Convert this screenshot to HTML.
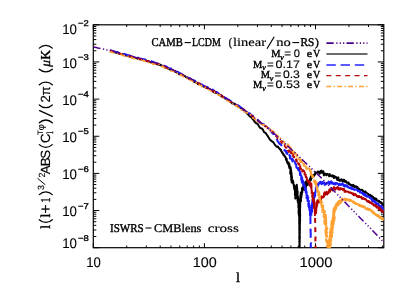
<!DOCTYPE html><html><head><meta charset="utf-8"><style>html,body{margin:0;padding:0;background:#fff}svg{display:block;will-change:transform;opacity:0.999}text{-webkit-font-smoothing:antialiased;text-rendering:geometricPrecision}</style></head><body><svg width="415" height="297" viewBox="0 0 415 297">
<rect width="415" height="297" fill="#fff"/>
<clipPath id="c"><rect x="93.3" y="24.8" width="290.5" height="223.5"/></clipPath>
<path d="M93.3,247.70 h6.0 M383.8,247.70 h-6.0 M93.3,236.52 h3.0 M383.8,236.52 h-3.0 M93.3,229.97 h3.0 M383.8,229.97 h-3.0 M93.3,225.33 h3.0 M383.8,225.33 h-3.0 M93.3,221.73 h3.0 M383.8,221.73 h-3.0 M93.3,218.79 h3.0 M383.8,218.79 h-3.0 M93.3,216.30 h3.0 M383.8,216.30 h-3.0 M93.3,214.15 h3.0 M383.8,214.15 h-3.0 M93.3,212.25 h3.0 M383.8,212.25 h-3.0 M93.3,210.55 h6.0 M383.8,210.55 h-6.0 M93.3,199.37 h3.0 M383.8,199.37 h-3.0 M93.3,192.82 h3.0 M383.8,192.82 h-3.0 M93.3,188.18 h3.0 M383.8,188.18 h-3.0 M93.3,184.58 h3.0 M383.8,184.58 h-3.0 M93.3,181.64 h3.0 M383.8,181.64 h-3.0 M93.3,179.15 h3.0 M383.8,179.15 h-3.0 M93.3,177.00 h3.0 M383.8,177.00 h-3.0 M93.3,175.10 h3.0 M383.8,175.10 h-3.0 M93.3,173.40 h6.0 M383.8,173.40 h-6.0 M93.3,162.22 h3.0 M383.8,162.22 h-3.0 M93.3,155.67 h3.0 M383.8,155.67 h-3.0 M93.3,151.03 h3.0 M383.8,151.03 h-3.0 M93.3,147.43 h3.0 M383.8,147.43 h-3.0 M93.3,144.49 h3.0 M383.8,144.49 h-3.0 M93.3,142.00 h3.0 M383.8,142.00 h-3.0 M93.3,139.85 h3.0 M383.8,139.85 h-3.0 M93.3,137.95 h3.0 M383.8,137.95 h-3.0 M93.3,136.25 h6.0 M383.8,136.25 h-6.0 M93.3,125.07 h3.0 M383.8,125.07 h-3.0 M93.3,118.52 h3.0 M383.8,118.52 h-3.0 M93.3,113.88 h3.0 M383.8,113.88 h-3.0 M93.3,110.28 h3.0 M383.8,110.28 h-3.0 M93.3,107.34 h3.0 M383.8,107.34 h-3.0 M93.3,104.85 h3.0 M383.8,104.85 h-3.0 M93.3,102.70 h3.0 M383.8,102.70 h-3.0 M93.3,100.80 h3.0 M383.8,100.80 h-3.0 M93.3,99.10 h6.0 M383.8,99.10 h-6.0 M93.3,87.92 h3.0 M383.8,87.92 h-3.0 M93.3,81.37 h3.0 M383.8,81.37 h-3.0 M93.3,76.73 h3.0 M383.8,76.73 h-3.0 M93.3,73.13 h3.0 M383.8,73.13 h-3.0 M93.3,70.19 h3.0 M383.8,70.19 h-3.0 M93.3,67.70 h3.0 M383.8,67.70 h-3.0 M93.3,65.55 h3.0 M383.8,65.55 h-3.0 M93.3,63.65 h3.0 M383.8,63.65 h-3.0 M93.3,61.95 h6.0 M383.8,61.95 h-6.0 M93.3,50.77 h3.0 M383.8,50.77 h-3.0 M93.3,44.22 h3.0 M383.8,44.22 h-3.0 M93.3,39.58 h3.0 M383.8,39.58 h-3.0 M93.3,35.98 h3.0 M383.8,35.98 h-3.0 M93.3,33.04 h3.0 M383.8,33.04 h-3.0 M93.3,30.55 h3.0 M383.8,30.55 h-3.0 M93.3,28.40 h3.0 M383.8,28.40 h-3.0 M93.3,26.50 h3.0 M383.8,26.50 h-3.0 M93.3,24.80 h6.0 M383.8,24.80 h-6.0 M93.30,247.7 v-4.5 M93.30,24.8 v4.5 M126.74,247.7 v-2.2 M126.74,24.8 v2.2 M146.31,247.7 v-2.2 M146.31,24.8 v2.2 M160.19,247.7 v-2.2 M160.19,24.8 v2.2 M170.96,247.7 v-2.2 M170.96,24.8 v2.2 M179.75,247.7 v-2.2 M179.75,24.8 v2.2 M187.19,247.7 v-2.2 M187.19,24.8 v2.2 M193.63,247.7 v-2.2 M193.63,24.8 v2.2 M199.32,247.7 v-2.2 M199.32,24.8 v2.2 M204.40,247.7 v-4.5 M204.40,24.8 v4.5 M237.84,247.7 v-2.2 M237.84,24.8 v2.2 M257.41,247.7 v-2.2 M257.41,24.8 v2.2 M271.29,247.7 v-2.2 M271.29,24.8 v2.2 M282.06,247.7 v-2.2 M282.06,24.8 v2.2 M290.85,247.7 v-2.2 M290.85,24.8 v2.2 M298.29,247.7 v-2.2 M298.29,24.8 v2.2 M304.73,247.7 v-2.2 M304.73,24.8 v2.2 M310.42,247.7 v-2.2 M310.42,24.8 v2.2 M315.50,247.7 v-4.5 M315.50,24.8 v4.5 M348.94,247.7 v-2.2 M348.94,24.8 v2.2 M368.51,247.7 v-2.2 M368.51,24.8 v2.2 M382.39,247.7 v-2.2 M382.39,24.8 v2.2" stroke="#000" stroke-width="1" fill="none"/>
<rect x="93.3" y="24.8" width="290.5" height="222.9" fill="none" stroke="#000" stroke-width="1.2"/>
<g clip-path="url(#c)" fill="none" stroke-width="2.0" stroke-linejoin="round">
<path d="M110.0,51.3 L111.8,51.4 L113.5,52.0 L115.2,52.4 L117.0,53.1 L118.5,53.2 L120.0,53.8 L121.5,54.1 L123.0,54.5 L124.5,55.1 L126.0,55.5 L127.5,55.8 L129.0,56.3 L130.5,56.4 L132.0,57.2 L133.5,57.4 L135.0,58.0 L136.5,58.1 L138.0,58.8 L139.5,59.2 L141.0,59.2 L142.5,59.7 L144.0,60.2 L145.5,60.6 L146.9,61.0 L148.4,61.7 L149.8,61.9 L151.3,62.7 L152.7,62.3 L154.2,63.3 L155.6,64.1 L157.1,64.1 L158.5,64.9 L160.0,64.6 L161.4,65.7 L162.8,65.9 L164.1,66.8 L165.5,67.5 L166.9,67.8 L168.2,68.6 L169.6,69.4 L171.0,69.6 L172.4,70.3 L173.7,70.6 L175.1,71.7 L176.4,72.4 L177.8,72.6 L179.1,74.2 L180.5,74.4 L181.9,74.6 L183.2,75.5 L184.6,76.0 L185.9,77.1 L187.3,77.5 L188.6,78.1 L190.0,79.1 L191.3,79.5 L192.7,80.9 L194.0,81.7 L195.3,82.2 L196.7,82.4 L198.0,84.0 L199.4,84.4 L200.7,85.0 L202.1,85.5 L203.4,86.6 L204.8,86.9 L206.1,87.5 L207.5,88.0 L208.9,89.1 L210.2,89.2 L211.6,90.6 L212.9,91.4 L214.3,92.3 L215.6,92.8 L217.0,92.7 L218.3,94.3 L219.6,94.5 L220.9,96.2 L222.1,96.4 L223.4,96.9 L224.7,98.3 L226.0,98.5 L227.3,99.9 L228.6,100.1 L229.9,100.8 L231.1,102.0 L232.4,103.6 L233.7,103.5 L235.0,104.0 L236.3,105.7 L237.6,105.7 L238.9,106.8 L240.1,107.4 L241.4,108.5 L242.7,109.4 L244.0,110.1 L245.1,111.3 L246.1,112.3 L247.2,113.5 L248.2,114.5 L249.3,115.9 L250.3,116.6 L251.4,117.3 L252.4,118.7 L253.5,119.9 L254.5,121.5 L255.6,122.8 L256.6,123.4 L257.7,124.0 L258.7,125.8 L259.8,127.6 L260.8,128.2 L261.9,128.5 L262.9,129.7 L264.0,132.1 L265.0,132.6 L266.0,133.5 L267.0,135.0 L268.0,136.4 L269.0,138.1 L270.0,139.7 L271.0,140.6 L272.1,141.4 L273.3,142.3 L274.4,144.0 L275.6,145.6 L276.8,146.8 L277.9,146.5 L279.1,148.4 L280.2,149.5 L280.5,149.3 L280.8,150.4 L281.0,150.0 L281.3,151.5 L281.6,151.5 L281.9,152.1 L282.1,152.4 L282.4,152.1 L282.7,153.7 L283.0,153.6 L283.2,153.9 L283.5,154.9 L283.8,154.9 L284.1,155.1 L284.3,155.4 L284.6,156.4 L284.9,156.1 L285.2,156.5 L285.4,157.1 L285.7,158.0 L286.0,158.1 L285.9,159.7 L286.6,158.7 L286.7,158.8 L286.7,159.1 L286.8,161.1 L287.3,162.1 L287.2,162.8 L287.6,161.6 L287.8,162.3 L287.9,162.6 L288.3,164.5 L288.7,162.7 L288.9,165.8 L289.0,167.0 L288.9,166.6 L289.5,164.3 L289.5,168.3 L289.6,168.4 L290.1,167.1 L289.9,166.5 L290.5,167.9 L290.3,168.4 L290.7,167.5 L290.2,173.2 L290.5,169.5 L290.9,169.2 L290.5,174.2 L290.6,169.7 L291.1,170.3 L291.2,171.6 L290.9,171.2 L291.1,174.3 L291.1,174.4 L291.1,177.4 L291.5,177.3 L291.5,172.7 L291.2,174.2 L291.3,180.4 L291.8,180.5 L291.6,175.0 L291.6,175.1 L292.0,177.3 L291.7,182.1 L291.8,182.1 L292.0,181.2 L292.1,182.8 L292.4,180.7 L292.7,182.4 L292.7,180.6 L293.0,180.6 L293.4,182.6 L293.1,183.1 L293.2,183.5 L293.7,184.5 L293.7,184.4 L294.0,187.3 L294.1,187.8 L294.3,185.1 L294.3,189.2 L294.6,187.3 L294.8,190.7 L294.8,188.0 L294.8,185.9 L295.0,189.9 L295.0,190.2 L295.0,192.6 L294.9,195.1 L294.9,194.8 L295.0,194.8 L295.1,189.9 L295.3,196.1 L295.5,196.9 L295.6,191.2 L295.3,192.1 L295.6,195.2 L295.6,198.3 L295.8,197.9 L295.8,197.4 L295.3,198.5 L295.4,194.5 L295.9,194.9 L295.9,192.6 L295.7,197.2 L295.6,195.2 L296.2,192.4 L296.1,195.9 L296.1,195.6 L296.2,189.4 L296.0,192.8 L296.5,189.9 L296.3,188.8 L296.6,190.6 L296.4,191.8 L296.2,191.7 L296.7,192.2 L296.4,187.0 L296.4,191.5 L296.6,187.2 L296.8,188.8 L296.7,186.6 L297.0,189.4 L296.8,184.8 L297.2,190.2 L297.0,188.3 L297.3,189.0 L296.9,187.0 L297.0,191.3 L297.1,194.4 L297.3,191.2 L297.4,192.8 L297.4,192.5 L297.4,193.0 L297.6,191.2 L297.6,192.5 L297.7,191.4 L297.5,194.6 L297.7,193.3 L297.5,193.3 L297.7,197.2 L297.4,194.7 L297.6,201.0 L297.8,198.6 L297.7,199.8 L298.1,200.4 L297.6,199.2 L298.0,196.7 L298.2,199.3 L297.9,202.1 L298.2,201.6 L298.4,202.3 L298.1,199.4 L298.3,202.1 L298.3,202.5 L298.0,200.7 L298.2,201.6 L298.6,205.8 L298.3,207.3 L298.6,202.9 L298.7,204.7 L298.9,204.5 L298.5,205.8 L298.9,210.6 L298.8,206.1 L298.7,210.7 L298.5,212.9 L299.1,213.5 L299.0,211.6 L299.2,209.5 L298.9,208.9 L298.8,214.5 L298.8,214.6 L299.1,216.1 L299.2,213.8 L299.3,214.3 L299.1,214.8 L299.2,215.3 L299.3,215.8 L299.3,216.3 L299.2,216.8 L299.3,217.3 L299.2,217.8 L299.3,218.3 L299.3,218.8 L299.3,219.3 L299.2,219.8 L299.2,220.3 L299.3,220.8 L299.3,221.3 L299.2,221.8 L299.3,222.3 L299.3,222.8 L299.2,223.3 L299.2,223.8 L299.3,224.3 L299.3,224.8 L299.4,225.3 L299.3,225.8 L299.3,226.3 L299.3,226.8 L299.4,227.3 L299.4,227.8 L299.2,228.3 L299.4,228.8 L299.3,229.3 L299.3,229.8 L299.4,230.3 L299.4,230.8 L299.5,231.3 L299.4,231.8 L299.4,232.3 L299.4,232.8 L299.4,233.3 L299.4,233.8 L299.4,234.3 L299.4,234.8 L299.5,235.3 L299.4,235.8 L299.4,236.3 L299.3,236.8 L299.5,237.3 L299.3,237.8 L299.3,238.3 L299.4,238.8 L299.4,239.3 L299.4,239.8 L299.5,240.3 L299.5,240.8 L299.3,241.3 L299.3,241.8 L299.5,242.3 L299.5,242.8 L299.5,243.3 L299.5,243.8 L299.5,244.3 L299.4,244.8 L299.6,245.3 L299.4,245.8 L299.4,246.3 L299.4,246.8 L299.5,247.3 L299.6,247.7 L299.6,247.7 L299.4,247.7 L299.5,247.7 M299.5,247.7 L299.6,247.7 L299.7,247.7 L299.6,247.5 L299.6,247.0 L299.6,246.5 L299.6,246.0 L299.6,245.5 L299.5,245.0 L299.7,244.5 L299.6,244.0 L299.6,243.5 L299.6,243.0 L299.7,242.5 L299.8,242.0 L299.7,241.5 L299.7,241.0 L299.7,240.5 L299.6,240.0 L299.7,239.5 L299.8,239.0 L299.8,238.5 L299.7,238.0 L299.9,237.5 L299.7,237.0 L299.8,236.4 L299.7,235.9 L299.7,235.4 L299.8,234.9 L299.7,234.4 L299.7,233.9 L299.7,233.4 L299.9,232.9 L299.8,232.4 L299.8,231.9 L299.7,231.4 L299.8,230.9 L299.9,230.4 L299.7,229.9 L299.7,229.4 L299.9,228.9 L299.9,228.4 L299.9,227.9 L299.8,227.4 L299.8,226.9 L299.8,226.4 L299.8,225.9 L299.9,225.4 L299.8,224.9 L299.9,224.4 L300.0,223.9 L299.9,223.4 L299.9,222.9 L299.9,222.4 L300.0,221.9 L299.9,221.4 L299.9,220.9 L300.1,220.4 L300.0,219.9 L300.0,219.4 L300.1,218.9 L299.9,218.4 L300.0,217.9 L300.0,217.4 L300.0,216.9 L300.1,216.4 L300.1,215.9 L300.1,215.4 L300.1,214.9 L299.9,214.4 L300.1,213.9 L300.0,213.4 L300.0,212.9 L300.1,212.3 L300.0,211.8 L300.0,211.3 L300.1,210.8 L300.1,210.3 L300.0,209.8 L300.0,209.3 L300.0,208.8 L300.1,208.3 L300.1,207.8 L300.2,207.3 L300.0,206.8 L300.2,206.3 L300.0,205.8 L300.2,205.3 L300.1,204.8 L300.1,204.3 L300.3,203.8 L300.2,203.3 L300.1,202.8 L300.2,202.3 L300.2,201.8 L300.1,201.3 L300.3,200.8 L300.1,204.9 L300.0,202.8 L300.4,195.6 L300.6,194.6 L300.8,196.6 L301.0,201.1 L300.6,196.4 L300.7,198.9 L300.8,192.6 L300.9,198.8 L301.0,193.7 L301.3,195.2 L301.3,198.0 L301.4,193.5 L301.8,191.1 L301.5,195.3 L301.7,195.1 L302.1,190.8 L302.0,188.3 L302.4,190.3 L302.2,187.8 L302.3,192.4 L302.4,189.6 L302.8,188.8 L302.8,187.5 L302.8,190.0 L303.3,187.5 L303.1,188.0 L303.4,186.0 L304.0,188.7 L304.4,186.5 L305.0,187.1 L304.7,189.9 L305.1,189.1 L304.8,189.3 L305.1,182.6 L305.5,188.8 L305.2,184.8 L305.8,183.4 L305.6,186.2 L305.8,187.3 L306.2,185.8 L306.2,181.2 L306.3,182.3 L306.6,182.7 L306.8,181.7 L307.6,182.8 L307.5,185.0 L308.0,183.8 L308.3,181.2 L308.6,183.7 L308.9,183.6 L309.2,183.1 L309.5,180.8 L309.8,178.9 L310.2,179.4 L310.4,178.1 L310.4,178.2 L311.0,176.3 L310.9,180.2 L311.2,176.4 L311.6,175.6 L311.3,175.0 L312.0,177.8 L312.5,175.7 L313.4,174.8 L313.5,176.6 L313.9,175.7 L314.2,175.6 L314.9,174.5 L314.9,174.7 L315.4,172.2 L315.7,173.2 L316.5,172.7 L317.1,172.4 L317.8,172.5 L317.9,171.5 L318.3,171.7 L319.3,172.2 L319.5,173.7 L320.3,172.9 L320.3,171.3 L320.9,171.0 L321.3,170.6 L321.7,172.7 L322.3,172.0 L322.7,173.0 L323.2,171.1 L323.7,173.1 L323.9,175.3 L324.6,173.5 L324.6,173.9 L325.4,173.8 L325.7,174.6 L326.3,175.2 L327.0,173.9 L327.6,174.5 L327.7,174.1 L328.2,174.7 L329.2,176.3 L329.6,174.0 L329.8,174.3 L330.4,175.7 L330.7,175.5 L331.4,176.2 L332.1,175.6 L332.4,175.4 L332.8,176.8 L333.0,176.6 L333.7,175.7 L334.0,178.0 L334.6,176.2 L335.0,177.4 L335.5,177.1 L335.9,176.9 L336.5,178.3 L336.7,178.5 L337.3,179.9 L338.2,177.4 L338.5,178.2 L338.6,180.2 L339.5,180.1 L339.8,180.9 L340.3,180.1 L340.8,180.8 L341.4,179.2 L341.5,180.2 L342.2,179.8 L342.8,181.6 L343.1,180.7 L343.6,179.8 L344.1,179.8 L344.6,181.7 L344.7,180.4 L345.4,181.6 L345.9,181.1 L346.4,182.0 L346.6,182.8 L347.2,182.5 L347.4,182.7 L347.7,182.6 L348.6,182.5 L348.7,184.1 L349.3,183.8 L349.9,184.3 L350.1,184.7 L350.4,185.0 L351.0,184.8 L351.5,185.3 L352.0,185.2 L352.4,185.9 L353.1,184.9 L353.6,186.6 L353.7,185.3 L354.6,187.0 L354.5,186.9 L355.5,186.2 L355.8,186.4 L356.3,187.1 L356.5,186.6 L357.1,187.9 L357.3,186.9 L357.6,187.5 L358.6,188.8 L359.0,189.0 L358.9,188.6 L359.9,189.8 L360.3,190.0 L360.6,190.1 L361.1,189.7 L361.0,189.7 L361.5,189.9 L362.2,190.2 L362.5,190.1 L363.0,191.2 L363.5,192.3 L363.7,191.2 L364.1,192.8 L364.9,192.5 L365.4,191.5 L365.9,192.4 L366.2,192.8 L366.7,192.9 L366.8,193.0 L367.5,193.7 L367.6,193.7 L368.3,194.0 L368.7,195.2 L369.2,195.4 L369.4,195.8 L370.2,195.4 L370.1,194.8 L371.0,196.6 L371.4,196.2 L371.7,195.7 L372.1,197.8 L372.3,197.3 L373.1,197.6 L373.2,197.1 L373.8,198.8 L374.3,198.0 L374.7,199.1 L374.9,199.3 L375.3,198.4 L375.5,199.8 L376.3,198.7 L376.3,199.5 L376.8,200.6 L377.2,200.6 L377.8,200.4 L378.4,200.9 L378.6,201.6 L379.0,200.9 L379.7,202.4 L379.9,202.2 L380.4,202.0 L380.4,202.8 L381.3,202.2 L381.8,203.0 L382.2,204.1 L382.2,203.3 L383.0,205.1 L383.3,204.6 L383.6,205.3 L384.2,205.7 L384.3,206.0" stroke="#000000"/>
<path d="M110.0,50.3 L111.8,50.6 L113.5,51.2 L115.2,51.8 L117.0,52.0 L118.5,52.7 L120.0,53.2 L121.5,53.4 L123.0,53.6 L124.5,54.0 L126.0,54.5 L127.5,55.2 L129.0,55.2 L130.5,55.9 L132.0,56.4 L133.5,56.7 L135.0,57.0 L136.5,57.3 L138.0,57.7 L139.5,58.4 L141.0,58.7 L142.5,59.0 L144.0,59.2 L145.5,59.8 L146.9,60.0 L148.4,60.5 L149.8,60.9 L151.3,61.1 L152.7,61.8 L154.2,62.3 L155.6,63.2 L157.1,63.3 L158.5,64.3 L160.0,63.6 L161.4,65.2 L162.8,65.1 L164.1,65.6 L165.5,66.1 L166.9,66.8 L168.2,67.9 L169.6,68.3 L171.0,68.6 L172.4,69.7 L173.7,70.0 L175.1,70.9 L176.4,71.6 L177.8,71.9 L179.1,72.9 L180.5,73.5 L181.9,74.1 L183.2,75.5 L184.6,75.3 L185.9,76.8 L187.3,76.5 L188.6,78.2 L190.0,78.2 L191.3,79.5 L192.7,80.0 L194.0,80.5 L195.3,80.8 L196.7,81.5 L198.0,82.1 L199.4,83.8 L200.7,84.4 L202.1,84.6 L203.4,85.7 L204.8,86.1 L206.1,87.2 L207.5,86.9 L208.9,88.7 L210.2,89.1 L211.6,89.3 L212.9,89.8 L214.3,91.1 L215.6,92.0 L217.0,92.1 L218.3,93.5 L219.6,94.1 L220.9,95.1 L222.1,95.4 L223.4,96.7 L224.7,97.8 L226.0,98.2 L227.3,99.0 L228.6,99.9 L229.9,100.6 L231.1,101.6 L232.4,102.8 L233.7,103.5 L235.0,103.8 L236.3,105.0 L237.6,105.2 L238.9,105.9 L240.1,106.8 L241.4,107.7 L242.7,109.2 L244.0,109.4 L245.2,110.7 L246.5,111.3 L247.7,112.7 L249.0,113.1 L250.2,113.6 L251.4,115.9 L252.7,115.5 L253.9,117.6 L255.1,118.2 L256.4,118.6 L257.6,119.6 L258.9,121.1 L260.1,122.6 L261.3,123.4 L262.6,124.0 L263.8,124.2 L265.0,125.5 L266.3,126.9 L267.5,127.2 L268.8,128.5 L270.0,129.8 L270.9,131.4 L271.7,131.9 L272.6,133.5 L273.5,133.9 L274.3,136.0 L275.2,136.6 L276.1,137.5 L276.9,139.3 L277.8,141.2 L278.7,142.6 L279.5,143.9 L280.4,143.9 L281.3,145.1 L282.1,147.3 L283.0,148.6 L283.3,148.9 L283.7,148.6 L284.0,149.6 L284.3,149.8 L284.7,150.6 L285.0,150.4 L285.3,150.8 L285.7,150.7 L286.0,150.7 L286.3,153.2 L286.7,152.9 L287.3,153.9 L287.2,152.4 L287.7,152.8 L288.1,152.7 L288.3,155.2 L288.5,153.8 L289.1,154.3 L289.6,156.1 L289.9,156.2 L290.0,155.7 L290.0,158.5 L290.4,155.9 L291.1,157.9 L291.2,159.7 L291.6,157.8 L291.6,159.6 L292.1,158.5 L292.2,159.9 L292.4,161.4 L293.0,159.6 L293.2,161.5 L293.2,161.4 L294.0,161.9 L294.2,161.6 L294.7,163.5 L294.7,161.6 L294.9,162.0 L295.2,163.1 L295.4,163.9 L295.6,164.3 L296.1,164.2 L296.4,167.5 L296.8,168.0 L296.8,167.4 L297.1,168.8 L297.6,168.5 L298.1,166.9 L298.0,169.8 L298.7,168.9 L298.5,167.9 L299.3,170.8 L299.3,171.2 L299.7,168.7 L299.8,174.0 L300.1,174.1 L299.9,173.1 L299.9,175.0 L300.4,172.9 L300.1,171.9 L300.5,177.4 L300.7,177.5 L300.6,173.9 L300.8,174.6 L301.3,175.7 L301.2,178.3 L301.4,180.1 L301.7,180.3 L301.7,177.9 L301.8,182.4 L302.3,180.1 L302.1,177.3 L302.5,181.4 L302.4,178.9 L302.6,183.0 L302.6,180.6 L302.9,182.6 L302.7,180.2 L303.1,185.1 L303.2,180.9 L303.3,182.6 L303.8,183.4 L304.0,184.3 L303.7,183.3 L304.1,186.8 L304.5,188.2 L304.5,185.1 L304.9,186.8 L304.7,186.8 L305.1,190.1 L305.1,188.3 L305.1,190.7 L305.8,188.5 L305.7,192.6 L306.1,189.5 L306.5,193.6 L306.4,191.4 L306.7,192.7 L306.6,197.6 L306.8,191.6 L306.5,192.4 L306.6,198.3 L307.0,195.5 L307.0,196.2 L307.1,198.5 L307.2,200.2 L307.6,200.7 L307.7,195.7 L307.6,201.5 L307.6,199.8 L307.7,202.4 L307.9,199.2 L308.3,197.5 L307.9,200.7 L308.2,198.7 L308.3,204.5 L308.7,206.2 L308.8,199.8 L308.6,203.4 L308.5,206.6 L308.8,207.1 L309.1,203.4 L309.0,205.5 L309.1,202.4 L309.3,204.7 L309.3,209.8 L309.7,207.2 L309.4,210.6 L309.6,205.7 L310.0,212.8 L309.8,210.3 L310.3,210.6 L310.1,207.7 L310.0,215.2 L310.4,212.0 L310.4,212.5 L310.4,213.0 L310.4,213.5 L310.2,214.0 L310.4,214.5 L310.2,215.0 L310.4,215.5 L310.4,216.0 L310.4,216.5 L310.4,217.0 L310.4,217.5 L310.5,218.0 L310.4,218.5 L310.4,219.0 L310.4,219.5 L310.4,220.0 L310.5,220.5 L310.5,221.0 L310.4,221.5 L310.4,222.0 L310.6,222.5 L310.4,223.0 L310.4,223.5 L310.5,224.0 L310.5,224.5 L310.6,225.0 L310.5,225.5 L310.7,226.0 L310.5,226.5 L310.5,227.0 L310.7,227.5 L310.6,228.0 L310.6,228.5 L310.5,229.0 L310.5,229.5 L310.7,230.0 L310.7,230.5 L310.6,231.0 L310.6,231.5 L310.5,232.0 L310.6,232.5 L310.7,233.0 L310.8,233.5 L310.6,234.0 L310.8,234.5 L310.7,235.0 L310.7,235.5 L310.7,236.0 L310.6,236.5 L310.8,237.0 L310.7,237.5 L310.8,238.0 L310.8,238.5 L310.7,239.0 L310.7,239.5 L310.7,240.0 L310.7,240.5 L310.8,241.0 L310.8,241.5 L310.7,242.0 L310.9,242.5 L310.9,243.0 L310.9,243.5 L310.7,244.0 L310.7,244.5 L310.7,245.0 L310.8,245.5 L310.9,246.0 L310.8,246.5 L310.8,247.0 L310.9,247.5 L310.8,247.7 L310.8,247.7" stroke="#1c1cff" stroke-dasharray="9.4 4.8"/>
<path d="M311.3,215.7 L311.3,212.2 L311.5,209.6 L311.3,210.6 L311.7,212.7 L311.4,212.0 L311.9,211.9 L311.6,205.1 L312.1,211.0 L311.7,210.8 L312.0,209.2 L311.9,209.1 L312.0,205.9 L312.0,208.8 L312.4,204.0 L312.0,203.2 L312.5,203.7 L312.2,207.6 L312.5,200.1 L312.8,203.6 L313.0,206.0 L313.0,205.9 L312.9,204.8 L313.0,202.9 L312.9,202.0 L312.9,203.3 L313.2,200.5 L313.7,201.7 L313.8,198.4 L313.5,201.7 L313.8,200.4 L314.0,197.0 L314.2,197.2 L314.5,196.9 L314.3,196.0 L314.4,197.8 L314.6,193.8 L314.9,193.1 L315.2,195.9 L315.0,192.7 L315.4,192.8 L315.5,191.0 L315.5,192.4 L315.9,190.1 L315.9,188.6 L315.7,188.4 L316.3,187.1 L316.1,189.0 L316.5,189.7 L316.3,187.5 L316.8,185.6 L316.7,189.1 L316.8,184.2 L317.1,188.2 L317.3,185.4 L317.6,186.9 L317.8,183.7 L318.4,185.1 L318.7,184.0 L319.4,182.4 L319.7,182.1 L320.6,181.7 L320.6,183.5 L321.2,183.1 L321.8,184.2 L322.4,181.9 L322.7,182.0 L323.5,183.1 L323.9,182.7 L324.4,182.6 L324.6,184.8 L325.2,183.4 L325.6,184.6 L325.8,183.7 L326.6,183.5 L326.8,183.8 L327.2,182.7 L328.2,182.5 L328.6,181.6 L328.9,183.0 L329.4,184.2 L330.3,182.1 L330.3,183.7 L331.2,182.7 L331.2,181.3 L332.1,183.6 L332.5,182.6 L332.9,182.9 L333.5,183.9 L333.9,183.2 L334.3,184.3 L335.3,183.0 L335.7,184.5 L335.8,183.0 L336.7,183.1 L336.8,183.0 L337.7,183.9 L337.7,183.6 L338.5,184.3 L338.8,185.4 L339.6,183.8 L339.9,183.8 L340.2,184.8 L340.9,185.0 L341.7,184.1 L341.9,184.3 L342.5,183.4 L342.9,184.2 L343.3,185.8 L344.1,184.9 L344.2,185.9 L344.8,186.6 L345.5,185.1 L346.0,185.9 L346.2,186.5 L346.7,185.4 L347.0,186.5 L347.6,185.8 L347.9,187.2 L348.5,187.5 L349.3,187.6 L349.4,188.0 L350.1,188.1 L350.7,187.3 L350.9,188.5 L351.3,187.2 L351.6,188.3 L352.2,189.2 L352.5,188.3 L353.4,188.9 L353.9,189.2 L354.4,190.0 L354.9,189.5 L355.1,189.5 L355.4,189.2 L356.1,189.7 L356.5,189.2 L357.3,189.9 L357.4,190.2 L357.9,191.3 L358.6,191.2 L359.0,191.0 L359.1,191.2 L359.9,191.0 L359.9,192.6 L360.3,191.4 L360.8,192.5 L361.3,192.3 L361.7,192.7 L362.0,193.3 L362.5,193.0 L363.3,194.6 L363.4,194.2 L363.7,193.4 L364.4,195.5 L364.5,194.8 L365.4,194.2 L365.7,195.0 L366.2,196.3 L366.7,196.5 L366.7,196.5 L367.4,196.1 L367.6,196.7 L368.2,196.8 L368.9,196.7 L369.3,196.8 L369.6,197.7 L369.9,198.0 L370.2,197.7 L370.7,198.0 L371.4,199.3 L371.7,199.7 L371.8,198.5 L372.1,200.7 L372.8,201.2 L373.1,200.3 L373.7,201.5 L374.0,201.1 L374.3,200.9 L375.0,202.6 L375.2,201.3 L375.8,202.3 L376.1,202.5 L376.1,203.5 L376.6,204.2 L377.0,203.3 L377.3,203.4 L378.1,203.4 L378.2,203.7 L378.5,204.9 L379.0,205.7 L379.7,205.5 L380.3,206.8 L380.3,206.7 L380.9,205.8 L381.4,205.8 L381.7,208.0 L382.1,207.8 L382.5,207.5 L382.6,207.8 L383.1,209.0 L383.8,209.7 L383.9,209.8 L384.6,208.3" stroke="#1c1cff"/>
<path d="M110.0,50.7 L111.8,51.3 L113.5,51.7 L115.2,52.3 L117.0,52.6 L118.5,53.0 L120.0,53.8 L121.5,54.1 L123.0,54.6 L124.5,54.6 L126.0,55.4 L127.5,55.8 L129.0,56.2 L130.5,56.5 L132.0,56.7 L133.5,57.0 L135.0,57.8 L136.5,58.1 L138.0,58.4 L139.5,58.9 L141.0,59.4 L142.5,59.4 L144.0,59.9 L145.5,60.6 L146.9,60.9 L148.4,61.1 L149.8,62.0 L151.3,62.3 L152.7,62.2 L154.2,62.4 L155.6,63.1 L157.1,63.9 L158.5,63.8 L160.0,64.1 L161.4,65.1 L162.8,65.6 L164.1,66.1 L165.5,67.4 L166.9,67.9 L168.2,68.5 L169.6,68.6 L171.0,69.3 L172.4,69.8 L173.7,70.8 L175.1,71.0 L176.4,72.1 L177.8,73.2 L179.1,73.4 L180.5,74.5 L181.9,74.9 L183.2,75.4 L184.6,76.3 L185.9,76.6 L187.3,78.0 L188.6,78.6 L190.0,79.2 L191.3,80.1 L192.7,80.2 L194.0,80.6 L195.3,81.6 L196.7,82.6 L198.0,83.3 L199.4,83.3 L200.7,84.6 L202.1,85.1 L203.4,86.0 L204.8,86.6 L206.1,87.8 L207.5,88.1 L208.9,88.8 L210.2,90.0 L211.6,90.4 L212.9,91.4 L214.3,91.0 L215.6,92.7 L217.0,93.1 L218.3,93.5 L219.6,95.1 L220.9,94.9 L222.1,95.8 L223.4,97.5 L224.7,97.8 L226.0,98.2 L227.3,99.3 L228.6,100.1 L229.9,101.6 L231.1,102.3 L232.4,102.5 L233.7,103.1 L235.0,105.0 L236.3,105.1 L237.6,106.5 L238.9,107.2 L240.1,108.1 L241.4,108.3 L242.7,108.8 L244.0,109.6 L245.2,111.6 L246.5,112.2 L247.7,113.0 L248.9,113.7 L250.1,114.1 L251.4,115.6 L252.6,116.0 L253.8,117.6 L255.0,118.3 L256.3,119.4 L257.5,120.8 L258.7,121.5 L260.0,122.2 L261.2,123.6 L262.4,123.2 L263.6,124.5 L264.9,126.2 L266.1,126.3 L267.3,127.4 L268.5,128.8 L269.8,129.8 L271.0,129.9 L271.3,130.0 L271.7,131.0 L272.0,131.3 L272.3,131.2 L272.7,131.9 L273.0,132.9 L273.3,132.3 L273.7,132.6 L274.0,133.6 L274.3,134.2 L274.7,134.0 L275.0,134.7 L275.3,135.8 L275.7,135.2 L276.0,135.6 L276.3,136.3 L276.7,135.8 L277.0,136.7 L277.3,137.4 L277.7,138.3 L278.0,138.3 L278.3,138.5 L278.7,138.8 L279.0,139.7 L279.3,140.2 L279.7,139.6 L280.0,140.3 L280.3,140.1 L280.7,141.3 L281.0,141.8 L281.3,141.1 L281.6,141.7 L282.0,142.9 L282.3,142.7 L282.6,143.5 L283.0,144.3 L283.3,144.6 L283.6,144.2 L284.0,145.5 L284.3,145.7 L284.6,144.9 L285.0,146.6 L285.3,146.9 L285.6,147.2 L286.0,147.8 L286.1,147.5 L286.4,147.5 L287.2,149.3 L287.6,148.8 L287.7,147.9 L288.0,150.7 L288.2,150.9 L288.5,151.1 L288.8,152.0 L289.1,149.6 L289.7,152.2 L290.1,151.4 L290.4,151.1 L290.5,151.7 L290.8,151.3 L291.1,153.3 L291.7,153.0 L292.0,153.4 L292.5,152.7 L292.7,156.1 L292.9,155.6 L293.4,154.3 L293.1,156.0 L293.8,156.6 L293.9,156.6 L294.2,158.6 L294.2,158.3 L294.5,159.4 L294.9,159.6 L295.2,159.5 L295.6,161.1 L295.8,159.9 L296.1,159.4 L296.7,160.1 L296.5,160.1 L297.1,163.0 L297.3,163.6 L297.3,163.8 L297.9,161.8 L297.8,163.0 L298.3,163.7 L298.7,163.2 L298.7,163.9 L298.9,164.8 L299.5,164.6 L299.5,166.7 L299.7,167.5 L300.3,165.4 L300.2,168.7 L300.5,168.7 L301.1,168.8 L301.1,169.4 L301.4,169.2 L302.1,169.7 L301.9,168.5 L302.3,171.5 L302.9,170.0 L303.1,170.3 L303.4,170.5 L304.0,171.2 L304.0,172.6 L304.2,170.7 L304.6,174.5 L304.8,172.4 L305.0,174.5 L305.2,174.6 L305.6,172.6 L305.7,177.0 L305.9,177.1 L306.0,176.3 L306.5,177.6 L306.5,175.4 L306.9,179.9 L307.2,180.1 L307.5,181.2 L307.4,181.1 L307.8,178.3 L308.2,179.7 L308.7,182.8 L308.8,179.8 L308.7,181.3 L309.0,180.6 L309.2,181.3 L309.5,181.0 L309.7,185.7 L310.3,184.5 L310.6,186.6 L310.3,182.4 L310.7,185.5 L311.2,182.5 L311.1,188.8 L311.0,189.0 L311.4,183.9 L311.4,187.6 L311.6,185.4 L311.6,184.7 L311.3,188.7 L311.6,189.2 L311.6,194.5 L311.8,190.8 L311.9,194.5 L311.9,195.4 L312.0,195.6 L312.3,193.7 L312.2,196.3 L312.3,196.5 L312.6,198.1 L312.9,197.7 L312.5,198.3 L312.5,198.8 L313.1,192.9 L312.6,199.8 L312.9,199.0 L313.2,202.1 L313.1,201.6 L313.4,201.4 L313.2,203.3 L313.3,203.7 L313.3,200.2 L313.2,197.1 L313.8,201.0 L313.7,201.6 L313.8,202.6 L313.5,201.1 L313.9,200.1 L314.1,199.7 L314.0,208.0 L314.2,201.6 L313.8,207.4 L314.1,202.1 L314.0,208.0 L314.0,205.0 L314.6,205.1 L314.6,203.5 L314.3,204.2 L314.7,209.7 L314.8,212.5 L314.9,206.3 L314.8,206.1 L315.0,209.9 L314.9,215.3 L315.1,212.1 L315.0,212.6 L315.1,213.1 L315.0,213.6 L315.2,214.1 L315.0,214.6 L315.2,215.1 L315.1,215.6 L315.2,216.1 L315.1,216.6 L315.1,217.1 L315.0,217.6 L315.2,218.1 L315.2,218.6 L315.0,219.1 L315.1,219.6 L315.2,220.1 L315.1,220.6 L315.1,221.1 L315.1,221.6 L315.2,222.1 L315.2,222.6 L315.1,223.1 L315.1,223.6 L315.3,224.1 L315.2,224.6 L315.3,225.1 L315.2,225.6 L315.3,226.1 L315.3,226.6 L315.2,227.1 L315.2,227.6 L315.3,228.1 L315.4,228.6 L315.3,229.1 L315.3,229.6 L315.3,230.1 L315.3,230.6 L315.4,231.1 L315.3,231.6 L315.4,232.1 L315.4,232.6 L315.3,233.1 L315.3,233.6 L315.4,234.1 L315.3,234.6 L315.5,235.1 L315.5,235.6 L315.5,236.1 L315.5,236.6 L315.5,237.1 L315.5,237.6 L315.6,238.1 L315.4,238.6 L315.4,239.1 L315.4,239.6 L315.4,240.1 L315.5,240.6 L315.4,241.1 L315.7,241.6 L315.6,242.1 L315.5,242.6 L315.7,243.1 L315.6,243.6 L315.6,244.1 L315.7,244.6 L315.6,245.1 L315.6,245.6 L315.5,246.1 L315.6,246.6 L315.7,247.1 L315.7,247.6 L315.7,247.7 L315.6,247.7 L315.8,247.7" stroke="#b40000" stroke-dasharray="4.9 4.5"/>
<path d="M316.1,214.0 L316.0,213.5 L316.0,213.0 L316.2,212.5 L316.1,212.0 L316.0,211.5 L316.2,211.0 L316.2,210.5 L316.3,210.0 L316.2,209.5 L316.2,209.0 L316.3,208.5 L316.3,208.0 L316.6,204.3 L316.7,205.1 L316.3,208.6 L316.8,205.7 L316.5,202.1 L316.5,206.8 L317.0,202.8 L316.9,206.3 L317.2,205.0 L317.4,200.6 L317.5,203.5 L317.2,203.5 L317.3,200.5 L317.7,202.3 L317.7,201.3 L318.3,200.3 L318.2,202.5 L318.7,201.0 L319.1,201.6 L320.0,200.4 L320.0,201.0 L320.4,202.9 L320.6,198.3 L320.6,199.8 L320.7,201.3 L321.1,198.4 L321.2,198.8 L321.8,196.3 L321.9,196.8 L321.8,196.8 L322.5,197.4 L323.1,197.3 L323.3,197.0 L323.5,197.2 L324.0,196.2 L324.0,193.8 L324.6,192.4 L324.8,195.1 L325.3,193.7 L325.8,193.9 L326.6,191.7 L326.8,194.2 L327.3,194.4 L327.7,192.4 L328.0,193.4 L328.6,192.9 L329.1,190.5 L329.5,189.4 L330.0,191.7 L330.0,190.6 L330.4,189.9 L331.3,189.6 L331.5,188.0 L331.7,189.2 L332.5,190.5 L333.0,190.0 L333.5,189.8 L333.9,187.1 L334.7,188.9 L334.8,187.7 L335.5,189.6 L336.1,188.3 L336.5,188.1 L336.9,187.6 L337.6,187.1 L338.0,187.3 L338.3,189.4 L339.2,188.8 L339.8,189.6 L340.0,189.5 L340.2,188.0 L341.1,189.0 L341.8,188.8 L341.9,188.8 L342.8,190.0 L342.9,188.7 L343.5,188.7 L344.2,189.3 L344.6,191.8 L344.8,191.0 L345.5,190.9 L345.8,191.8 L346.1,191.4 L346.5,191.6 L347.5,191.5 L347.8,191.6 L348.1,191.9 L348.8,191.9 L348.8,192.5 L349.6,192.8 L350.0,192.4 L350.6,192.5 L350.8,192.6 L351.1,192.8 L352.0,193.4 L352.3,193.2 L352.7,194.3 L353.5,193.4 L353.9,195.2 L354.2,195.2 L354.5,195.2 L354.9,194.3 L355.4,194.1 L356.2,194.9 L356.5,195.8 L356.9,196.3 L357.3,196.7 L358.1,196.1 L358.6,197.0 L359.1,196.1 L359.3,196.4 L359.7,197.1 L360.4,196.9 L360.7,197.0 L361.1,196.8 L361.6,198.1 L362.1,198.8 L362.6,197.9 L363.3,198.4 L363.3,198.9 L364.1,198.6 L364.2,198.5 L364.9,199.3 L365.5,199.1 L365.8,199.3 L366.1,199.5 L366.8,200.9 L367.1,201.3 L367.8,201.6 L368.2,201.0 L368.5,201.9 L368.9,201.1 L369.8,202.7 L370.0,202.7 L370.1,202.8 L370.9,202.2 L371.1,203.2 L371.9,203.7 L371.8,203.6 L372.4,203.2 L372.6,204.2 L373.1,204.0 L373.7,205.4 L374.0,205.0 L374.6,205.7 L375.1,204.9 L375.6,204.9 L375.7,206.5 L376.4,206.0 L376.7,207.0 L376.7,207.4 L377.6,206.5 L377.7,207.4 L378.5,208.7 L378.4,207.9 L378.8,207.4 L379.3,209.5 L380.1,208.3 L380.4,209.5 L380.7,210.2 L380.9,209.3 L381.3,210.9 L382.1,210.3 L382.1,211.4 L382.9,211.7 L383.4,211.6 L383.6,212.1 L383.8,212.5 L384.3,212.0" stroke="#b40000"/>
<path d="M110.0,51.7 L111.8,52.2 L113.5,52.4 L115.2,53.3 L117.0,53.5 L118.5,54.0 L120.0,54.4 L121.5,54.6 L123.0,55.4 L124.5,55.7 L126.0,55.8 L127.5,56.4 L129.0,56.6 L130.5,57.2 L132.0,57.8 L133.5,58.2 L135.0,58.6 L136.5,59.0 L138.0,59.0 L139.5,59.5 L141.0,60.0 L142.5,60.3 L144.0,60.7 L145.5,61.3 L146.9,61.9 L148.4,62.3 L149.8,62.8 L151.3,62.5 L152.7,63.9 L154.2,63.9 L155.6,63.9 L157.1,64.7 L158.5,64.5 L160.0,66.1 L161.4,66.5 L162.8,66.3 L164.1,67.6 L165.5,67.4 L166.9,68.0 L168.2,68.9 L169.6,70.3 L171.0,70.9 L172.4,70.5 L173.7,71.1 L175.1,72.2 L176.4,72.6 L177.8,74.1 L179.1,74.9 L180.5,74.9 L181.9,75.7 L183.2,76.5 L184.6,77.2 L185.9,77.7 L187.3,78.6 L188.6,78.8 L190.0,79.7 L191.3,79.8 L192.7,81.2 L194.0,82.0 L195.3,82.0 L196.7,83.2 L198.0,83.8 L199.4,85.0 L200.7,84.9 L202.1,86.7 L203.4,86.7 L204.8,87.3 L206.1,88.0 L207.5,89.0 L208.9,89.5 L210.2,89.7 L211.6,91.3 L212.9,91.4 L214.3,92.1 L215.6,93.0 L217.0,93.3 L218.3,94.4 L219.6,95.4 L220.9,95.8 L222.1,97.2 L223.4,97.8 L224.7,98.2 L226.0,99.1 L227.3,100.7 L228.6,100.9 L229.9,102.1 L231.1,102.6 L232.4,103.3 L233.7,104.1 L235.0,105.1 L236.3,105.9 L237.6,106.4 L238.9,108.2 L240.1,109.0 L241.4,109.8 L242.7,109.8 L244.0,111.3 L245.3,111.8 L246.5,112.5 L247.8,113.1 L249.0,114.3 L250.3,114.7 L251.6,116.7 L252.8,117.9 L254.1,118.3 L255.3,119.5 L256.6,119.7 L257.9,121.0 L259.1,122.6 L260.4,122.5 L261.7,124.3 L262.9,125.0 L264.2,125.0 L265.4,126.9 L266.7,127.8 L268.0,128.7 L269.2,128.4 L270.5,130.7 L271.7,130.6 L273.0,131.9 L273.4,132.2 L273.7,131.8 L274.1,132.3 L274.5,132.6 L274.8,134.2 L275.2,134.0 L275.6,134.0 L275.9,134.9 L276.3,134.8 L276.7,135.1 L277.0,135.8 L277.4,135.8 L277.8,135.9 L278.2,136.9 L278.5,136.9 L278.9,137.6 L279.3,137.6 L279.6,138.4 L280.0,138.8 L280.4,138.4 L280.7,139.5 L281.1,139.4 L281.5,140.4 L281.8,140.0 L282.2,141.0 L282.6,140.8 L282.9,141.7 L283.3,142.2 L283.7,142.2 L284.0,142.3 L284.4,142.7 L284.8,142.4 L285.1,142.5 L285.5,143.0 L285.9,143.5 L286.0,145.3 L286.4,145.7 L287.1,146.0 L287.6,145.6 L287.9,144.3 L288.3,146.1 L288.6,145.2 L289.0,148.0 L288.9,146.5 L289.6,148.4 L289.8,146.8 L290.1,148.5 L290.8,148.1 L290.9,148.5 L291.2,149.0 L291.3,149.6 L292.2,149.7 L292.4,149.3 L292.7,151.6 L293.0,151.2 L293.2,152.0 L293.8,150.8 L293.6,153.1 L294.4,152.8 L294.5,153.8 L294.6,152.7 L295.0,154.1 L295.4,153.4 L295.9,156.1 L296.0,155.7 L296.4,156.5 L296.8,155.0 L296.9,154.6 L297.4,156.2 L297.6,156.5 L298.0,158.2 L298.2,159.3 L298.7,158.4 L299.0,159.6 L299.6,159.0 L299.7,160.0 L300.2,159.2 L300.5,161.9 L300.6,159.3 L300.8,161.7 L301.4,163.0 L301.9,160.5 L301.8,160.9 L302.1,163.2 L302.8,164.3 L302.8,164.6 L303.1,163.1 L303.7,162.1 L303.7,165.6 L304.1,164.0 L304.6,165.7 L304.6,164.7 L305.2,165.7 L305.4,166.5 L306.1,166.1 L306.2,165.4 L306.4,168.0 L306.6,169.2 L307.4,166.4 L307.8,167.9 L308.1,169.8 L308.1,169.8 L308.7,170.7 L308.8,170.8 L309.6,170.9 L309.7,168.9 L310.0,170.3 L310.4,172.2 L310.5,170.2 L310.8,172.9 L310.7,174.7 L311.2,171.3 L311.6,171.9 L311.5,175.2 L311.9,174.9 L312.2,174.8 L312.2,173.9 L312.3,177.1 L312.9,176.7 L313.1,176.2 L313.0,176.7 L313.6,175.3 L313.6,176.9 L313.9,178.0 L313.8,178.7 L314.1,181.3 L314.2,182.2 L314.3,179.4 L314.4,179.0 L315.0,182.9 L314.9,180.4 L315.2,184.0 L315.6,184.5 L315.7,181.6 L315.8,182.2 L316.0,184.9 L316.0,183.4 L316.4,182.3 L316.6,188.6 L316.8,185.6 L316.7,187.5 L316.9,190.6 L317.1,186.5 L317.3,188.2 L317.3,190.4 L317.1,191.1 L317.6,189.7 L317.7,190.0 L317.6,191.0 L317.6,191.2 L318.1,191.4 L318.2,195.3 L318.6,190.2 L318.6,194.0 L318.3,192.7 L318.6,191.3 L318.9,197.5 L318.9,197.6 L319.3,193.1 L319.5,196.7 L319.7,198.0 L319.7,196.0 L319.9,200.4 L320.1,197.6 L320.1,198.4 L319.9,195.9 L320.0,197.5 L320.2,199.9 L320.7,200.6 L320.6,201.9 L320.4,201.1 L321.5,201.2 L320.4,205.0 L321.7,201.9 L321.1,203.5 L321.7,201.9 L320.6,202.3 L322.4,202.4 L321.9,203.2 L321.5,203.4 L322.0,203.9 L321.3,203.9 L321.8,207.2 L321.6,204.3 L322.6,207.6 L323.3,205.5 L322.8,208.5 L322.1,213.2 L322.6,207.3 L323.3,208.4 L323.8,210.2 L322.8,208.6 L324.3,210.7 L324.5,212.6 L325.0,211.9 L323.6,212.2 L325.0,215.4 L324.1,211.3 L324.9,219.9 L324.7,211.2 L323.5,212.5 L323.9,212.5 L323.7,218.9 L325.6,215.1 L325.9,218.2 L325.5,222.9 L325.9,215.0 L324.6,220.9 L326.0,216.5 L324.6,224.2 L324.3,220.4 L324.9,223.6 L326.2,219.3 L325.9,225.1 L326.1,223.9 L326.4,222.6 L325.3,221.8 L326.2,224.7 L325.1,222.3 L326.2,226.9 L326.2,225.3 L325.8,223.6 L326.3,222.9 L325.8,230.4 L326.4,224.6 L325.5,232.2 L326.4,233.0 L327.0,229.4 L327.1,232.6 L325.9,229.7 L325.4,230.4 L327.4,228.1 L326.6,228.7 L325.6,234.3 L326.0,231.1 L325.8,234.6 L326.8,232.0 L326.0,237.2 L326.0,235.7 L326.5,237.3 L327.0,237.8 L326.8,235.3 L326.1,235.3 L327.5,236.0 L325.8,240.7 L326.2,240.9 L326.0,239.2 L326.3,241.5 L327.2,241.1 L327.6,242.8 L326.7,241.9 L327.0,240.0 L327.9,242.9 L327.8,241.4 L327.3,243.2 L327.7,241.8 L326.9,244.3 L326.3,245.2 L327.8,245.0 L327.7,246.4 L326.7,245.7 L328.5,246.1 L327.3,245.3 L326.8,246.2 L328.5,247.7 L328.4,247.7 L327.8,247.7 L327.7,247.7" stroke="#ffa030" stroke-dasharray="4.8 2.4 1.3 2.4"/>
<path d="M329.8,247.7 L329.9,247.7 L329.5,247.1 L330.1,247.7 L328.6,247.7 L328.4,242.7 L329.7,244.0 L329.3,246.8 L328.3,247.3 L328.9,243.9 L329.1,246.3 L330.1,241.5 L328.7,241.1 L329.5,238.5 L329.0,244.5 L330.2,246.0 L330.9,244.6 L329.7,237.3 L329.6,239.6 L330.1,239.9 L329.9,242.4 L329.8,238.1 L331.2,240.9 L330.0,235.0 L331.2,232.3 L329.8,236.8 L330.7,232.8 L329.7,232.7 L331.4,234.7 L331.9,237.2 L332.0,229.6 L330.4,228.9 L331.0,231.5 L330.2,232.9 L330.4,230.2 L330.8,234.4 L331.3,228.7 L330.5,229.8 L331.9,231.7 L332.6,232.4 L331.2,225.5 L332.4,231.3 L331.9,231.2 L332.0,225.4 L331.3,222.4 L332.4,230.3 L333.0,225.7 L332.6,229.6 L333.0,226.0 L332.2,224.7 L331.7,221.0 L332.9,228.2 L332.7,222.1 L332.3,222.1 L333.4,221.5 L333.8,218.2 L332.4,221.2 L332.7,223.8 L333.7,224.1 L333.3,215.0 L333.3,219.5 L333.1,216.4 L333.7,221.9 L332.4,219.1 L333.1,217.1 L334.3,220.9 L333.8,213.1 L334.5,212.5 L333.4,218.1 L333.3,212.3 L334.8,218.2 L333.5,212.5 L333.4,209.5 L333.4,217.1 L333.8,209.4 L334.0,208.1 L334.2,212.7 L334.6,211.3 L334.8,207.3 L334.7,212.0 L334.8,207.7 L335.2,207.2 L335.5,205.5 L335.5,210.0 L335.7,209.2 L335.9,209.2 L336.4,206.7 L336.3,203.4 L337.0,203.7 L337.0,206.1 L337.7,202.5 L338.1,204.1 L338.0,201.9 L338.4,205.2 L338.6,201.2 L338.9,200.9 L339.3,203.6 L339.6,200.6 L340.6,203.2 L341.1,200.2 L341.1,202.4 L341.7,201.2 L342.0,198.5 L342.5,200.8 L343.2,199.8 L343.5,199.4 L344.0,199.5 L344.7,198.6 L345.1,200.2 L345.8,199.0 L346.4,200.2 L346.4,199.3 L346.9,199.0 L347.9,199.7 L348.4,199.3 L348.4,200.6 L349.3,200.9 L349.8,200.2 L350.4,199.5 L350.7,200.3 L350.9,200.9 L351.5,200.9 L351.9,200.8 L352.4,201.6 L353.2,202.4 L353.6,202.5 L353.7,203.0 L354.1,201.6 L354.7,203.0 L355.1,203.0 L355.5,203.9 L356.1,203.2 L356.6,204.2 L357.3,203.8 L357.4,204.2 L357.7,204.0 L358.6,204.9 L358.6,205.3 L359.2,205.8 L359.7,204.5 L360.3,206.1 L360.7,206.3 L361.3,205.5 L361.5,206.0 L362.0,206.0 L362.6,207.2 L363.1,206.0 L363.3,206.7 L364.0,206.5 L364.1,207.1 L364.7,206.7 L365.3,208.7 L365.8,208.5 L366.4,209.0 L367.0,208.4 L367.3,208.1 L367.9,208.8 L368.1,210.0 L368.4,208.9 L369.2,209.9 L369.2,209.0 L369.8,209.2 L370.6,209.8 L370.7,210.5 L371.2,210.8 L371.7,211.6 L372.0,210.7 L372.7,212.2 L372.6,212.0 L373.4,213.4 L373.4,211.7 L374.1,212.8 L374.8,214.0 L374.8,213.4 L375.4,214.6 L375.6,213.9 L375.9,214.7 L376.3,215.6 L377.0,215.2 L377.2,214.8 L377.8,216.3 L378.2,215.4 L378.9,216.5 L379.1,215.8 L379.3,217.6 L379.7,217.1 L380.4,217.0 L380.9,218.4 L381.3,218.4 L381.3,217.3 L381.9,218.1 L382.2,219.5 L382.6,219.7 L383.4,218.6 L383.8,219.4 L383.8,219.3 L384.1,220.2" stroke="#ffa030"/>
<path d="M93.3,47.0 L94.8,47.3 L96.3,47.6 L97.9,48.0 L99.4,48.3 L100.9,48.6 L102.4,48.9 L103.9,49.2 L105.4,49.5 L107.0,49.9 L108.5,50.2 L110.0,50.5 L110.0,50.5 L111.8,51.0 L113.5,51.5 L115.2,51.9 L117.0,52.4 L118.5,52.8 L120.0,53.2 L121.5,53.6 L123.0,54.0 L124.5,54.4 L126.0,54.8 L127.5,55.2 L129.0,55.6 L130.5,56.0 L132.0,56.4 L133.5,56.8 L135.0,57.2 L136.5,57.6 L138.0,58.0 L139.5,58.4 L141.0,58.8 L142.5,59.2 L144.0,59.6 L145.5,60.0 L146.9,60.5 L148.4,60.9 L149.8,61.3 L151.3,61.7 L152.7,62.2 L154.2,62.6 L155.6,63.0 L157.1,63.4 L158.5,63.9 L160.0,64.3 L161.4,64.9 L162.8,65.5 L164.1,66.1 L165.5,66.7 L166.9,67.3 L168.2,67.9 L169.6,68.5 L171.0,69.1 L172.4,69.8 L173.7,70.4 L175.1,71.1 L176.4,71.8 L177.8,72.5 L179.1,73.1 L180.5,73.8 L181.9,74.5 L183.2,75.1 L184.6,75.8 L185.9,76.5 L187.3,77.2 L188.6,77.8 L190.0,78.5 L191.3,79.2 L192.7,79.9 L194.0,80.6 L195.3,81.4 L196.7,82.1 L198.0,82.8 L199.4,83.5 L200.7,84.2 L202.1,84.9 L203.4,85.6 L204.8,86.3 L206.1,87.0 L207.5,87.7 L208.9,88.4 L210.2,89.1 L211.6,89.8 L212.9,90.5 L214.3,91.2 L215.6,91.9 L217.0,92.6 L218.3,93.4 L219.6,94.2 L220.9,95.0 L222.1,95.9 L223.4,96.7 L224.7,97.5 L226.0,98.3 L227.3,99.1 L228.6,99.9 L229.9,100.7 L231.1,101.6 L232.4,102.4 L233.7,103.2 L235.0,104.0 L236.3,104.8 L237.6,105.6 L238.9,106.4 L240.1,107.3 L241.4,108.1 L242.7,108.9 L244.0,109.7 L245.2,110.7 L246.5,111.6 L247.7,112.6 L248.9,113.5 L250.1,114.5 L251.4,115.4 L252.6,116.4 L253.8,117.3 L255.0,118.3 L256.3,119.2 L257.5,120.2 L258.7,121.2 L260.0,122.1 L261.2,123.1 L262.4,124.0 L263.6,125.0 L264.9,125.9 L266.1,126.9 L267.3,127.8 L268.5,128.8 L269.8,129.7 L271.0,130.7 L271.4,131.0 L271.7,131.4 L272.1,131.7 L272.5,132.1 L272.9,132.4 L273.2,132.8 L273.6,133.1 L274.0,133.4 L274.4,133.8 L274.7,134.1 L275.1,134.5 L275.5,134.8 L275.9,135.2 L276.2,135.5 L276.6,135.8 L277.0,136.2 L277.3,136.5 L277.7,136.9 L278.1,137.2 L278.5,137.6 L278.8,137.9 L279.2,138.3 L279.6,138.6 L280.0,138.9 L280.3,139.3 L280.7,139.6 L281.1,140.0 L281.4,140.3 L281.8,140.7 L282.2,141.0 L282.6,141.3 L282.9,141.7 L283.3,142.0 L283.7,142.4 L284.1,142.7 L284.4,143.1 L284.8,143.4 L285.2,143.7 L285.6,144.1 L285.9,144.4 L286.3,144.8 L286.7,145.1 L287.0,145.5 L287.4,145.8 L287.8,146.1 L288.2,146.5 L288.5,146.8 L288.9,147.2 L289.3,147.5 L289.7,147.9 L290.0,148.2 L290.4,148.6 L290.8,148.9 L291.1,149.2 L291.5,149.6 L291.9,149.9 L292.3,150.3 L292.6,150.6 L293.0,151.0 L293.4,151.3 L293.8,151.6 L294.1,152.0 L294.5,152.3 L294.9,152.7 L295.3,153.0 L295.6,153.4 L296.0,153.7 L296.4,154.0 L296.7,154.4 L297.1,154.7 L297.4,155.1 L297.8,155.4 L298.2,155.8 L298.5,156.1 L298.9,156.5 L299.3,156.8 L299.6,157.2 L300.0,157.5 L300.3,157.8 L300.7,158.2 L301.1,158.5 L301.4,158.9 L301.8,159.2 L302.1,159.6 L302.5,159.9 L302.9,160.3 L303.2,160.6 L303.6,161.0 L304.0,161.3 L304.3,161.6 L304.7,162.0 L305.0,162.3 L305.4,162.7 L305.8,163.0 L306.1,163.4 L306.5,163.7 L306.9,164.1 L307.2,164.4 L307.6,164.8 L307.9,165.1 L308.3,165.4 L308.7,165.8 L309.0,166.1 L309.4,166.5 L309.7,166.8 L310.1,167.2 L310.5,167.5 L310.8,167.9 L311.2,168.2 L311.6,168.6 L311.9,168.9 L312.3,169.3 L312.6,169.6 L313.0,169.9 L313.4,170.3 L313.7,170.6 L314.1,171.0 L314.5,171.3 L314.8,171.7 L315.2,172.0 L315.5,172.4 L315.9,172.7 L316.3,173.1 L316.6,173.4 L317.0,173.7 L317.3,174.1 L317.7,174.4 L318.1,174.8 L318.4,175.1 L318.8,175.5 L319.2,175.8 L319.5,176.2 L319.9,176.5 L320.2,176.9 L320.6,177.2 L321.0,177.6 L321.3,177.9 L321.7,178.3 L322.0,178.6 L322.4,179.0 L322.7,179.4 L323.1,179.7 L323.4,180.1 L323.8,180.5 L324.1,180.8 L324.5,181.2 L324.8,181.5 L325.2,181.9 L325.5,182.3 L325.9,182.6 L326.2,183.0 L326.6,183.3 L326.9,183.7 L327.3,184.1 L327.6,184.4 L328.0,184.8 L328.4,185.2 L328.7,185.5 L329.1,185.9 L329.4,186.2 L329.8,186.6 L330.1,187.0 L330.5,187.3 L330.8,187.7 L331.2,188.0 L331.5,188.4 L331.9,188.8 L332.2,189.1 L332.6,189.5 L332.9,189.9 L333.3,190.2 L333.6,190.6 L334.0,190.9 L334.3,191.3 L334.7,191.7 L335.0,192.0 L335.4,192.4 L335.7,192.7 L336.1,193.1 L336.5,193.5 L336.8,193.8 L337.2,194.2 L337.5,194.6 L337.9,194.9 L338.2,195.3 L338.6,195.6 L338.9,196.0 L339.3,196.4 L339.6,196.7 L340.0,197.1 L340.3,197.4 L340.7,197.8 L341.0,198.2 L341.4,198.5 L341.7,198.9 L342.1,199.3 L342.4,199.6 L342.8,200.0 L343.1,200.3 L343.5,200.7 L343.9,201.1 L344.2,201.4 L344.6,201.8 L344.9,202.2 L345.3,202.5 L345.6,202.9 L346.0,203.3 L346.3,203.6 L346.7,204.0 L347.1,204.4 L347.4,204.8 L347.8,205.1 L348.1,205.5 L348.5,205.9 L348.8,206.2 L349.2,206.6 L349.5,207.0 L349.9,207.3 L350.2,207.7 L350.6,208.1 L351.0,208.4 L351.3,208.8 L351.7,209.2 L352.0,209.5 L352.4,209.9 L352.7,210.3 L353.1,210.6 L353.4,211.0 L353.8,211.4 L354.2,211.8 L354.5,212.1 L354.9,212.5 L355.2,212.9 L355.6,213.2 L355.9,213.6 L356.3,214.0 L356.6,214.3 L357.0,214.7 L357.4,215.1 L357.7,215.4 L358.1,215.8 L358.4,216.1 L358.8,216.5 L359.1,216.8 L359.5,217.2 L359.8,217.5 L360.2,217.9 L360.5,218.3 L360.9,218.6 L361.2,219.0 L361.6,219.3 L361.9,219.7 L362.3,220.0 L362.6,220.4 L363.0,220.7 L363.3,221.1 L363.7,221.4 L364.1,221.8 L364.4,222.2 L364.8,222.5 L365.1,222.9 L365.5,223.2 L365.8,223.6 L366.2,223.9 L366.5,224.3 L366.9,224.6 L367.2,225.0 L367.6,225.4 L367.9,225.7 L368.3,226.1 L368.6,226.4 L369.0,226.8 L369.3,227.1 L369.7,227.5 L370.0,227.8 L370.4,228.2 L370.8,228.6 L371.1,228.9 L371.4,229.3 L371.8,229.7 L372.1,230.0 L372.5,230.4 L372.8,230.8 L373.2,231.1 L373.5,231.5 L373.9,231.9 L374.2,232.2 L374.6,232.6 L374.9,233.0 L375.3,233.3 L375.6,233.7 L376.0,234.1 L376.3,234.4 L376.7,234.8 L377.0,235.2 L377.4,235.5 L377.8,235.9 L378.1,236.3 L378.4,236.7 L378.8,237.0 L379.1,237.4 L379.5,237.8 L379.8,238.1 L380.2,238.5 L380.5,238.9 L380.9,239.2 L381.2,239.6 L381.6,240.0 L381.9,240.3 L382.3,240.7 L382.6,241.1 L383.0,241.4 L383.3,241.8 L383.7,242.2 L384.0,242.5 L384.4,242.9" stroke="#50008c" stroke-width="1.5" stroke-dasharray="7.3 2.6 1.2 2.2 1.2 2.2 1.2 2.2"/>
</g>
<path d="M326.4,43.1 H367.5" stroke="#4a0088" stroke-width="1.6" stroke-dasharray="7.3 2.6 1.2 2.2 1.2 2.2 1.2 2.2"/>
<path d="M326.4,54.0 H367.5" stroke="#3a3a3a" stroke-width="1.7"/>
<path d="M326.4,64.9 H367.5" stroke="#2626ff" stroke-width="1.5" stroke-dasharray="9.4 4.8"/>
<path d="M326.4,75.6 H367.5" stroke="#b40000" stroke-width="1.4" stroke-dasharray="4.9 4.5"/>
<path d="M326.4,86.5 H367.5" stroke="#ffa030" stroke-width="1.4" stroke-dasharray="4.8 2.4 1.3 2.4"/>
<g fill="#000" stroke="#000" stroke-width="0.4" stroke-linejoin="round">
<text x="151.4" y="46.3" font-family="Liberation Serif, serif" font-size="11.8" textLength="31.4" lengthAdjust="spacingAndGlyphs" >CAMB</text>
<path d="M184.6,42.6 H190.9" stroke="#000" stroke-width="1.1" fill="none"/>
<text x="192.0" y="46.3" font-family="Liberation Serif, serif" font-size="11.8" textLength="28.8" lengthAdjust="spacingAndGlyphs" >LCDM</text>
<text x="228.8" y="46.3" font-family="Liberation Serif, serif" font-size="11.8" textLength="3.2" lengthAdjust="spacingAndGlyphs" >(</text>
<text x="233.0" y="46.3" font-family="Liberation Serif, serif" font-size="11.8" textLength="33.0" lengthAdjust="spacingAndGlyphs" stroke-width="0.15">linear</text>
<path d="M267.0,48.8 L274.2,36.8" stroke="#000" stroke-width="1.2" fill="none"/>
<text x="276.2" y="46.3" font-family="Liberation Serif, serif" font-size="11.8" textLength="14.6" lengthAdjust="spacingAndGlyphs" stroke-width="0.15">no</text>
<path d="M292.4,42.6 H299.2" stroke="#000" stroke-width="1.1" fill="none"/>
<text x="300.6" y="46.3" font-family="Liberation Serif, serif" font-size="11.8" textLength="13.8" lengthAdjust="spacingAndGlyphs" >RS</text>
<text x="315.0" y="46.3" font-family="Liberation Serif, serif" font-size="11.8" textLength="3.8" lengthAdjust="spacingAndGlyphs" >)</text>
<text x="110.0" y="231.8" font-family="Liberation Serif, serif" font-size="11.8" textLength="33.6" lengthAdjust="spacingAndGlyphs" >ISWRS</text>
<path d="M145.5,228.0 H151.5" stroke="#000" stroke-width="1.1" fill="none"/>
<text x="154.1" y="231.8" font-family="Liberation Serif, serif" font-size="11.8" textLength="47.3" lengthAdjust="spacingAndGlyphs" stroke-width="0.3">CMBlens</text>
<text x="207.8" y="231.8" font-family="Liberation Serif, serif" font-size="11.8" textLength="31.1" lengthAdjust="spacingAndGlyphs" stroke-width="0.15">cross</text>
<text x="271.2" y="57.0" font-family="Liberation Serif, serif" font-size="10.9" textLength="9.3" lengthAdjust="spacingAndGlyphs" >M</text><text x="280.3" y="59.8" font-family="Liberation Serif, serif" font-size="8.5" textLength="3.6" lengthAdjust="spacingAndGlyphs" font-style="italic">ν</text><text x="284.3" y="57.0" font-family="Liberation Sans, sans-serif" font-size="10.9" textLength="6.8" lengthAdjust="spacingAndGlyphs"  stroke-width="0.12">=</text><text x="293.7" y="57.0" font-family="Liberation Sans, sans-serif" font-size="10.9" textLength="6.2" lengthAdjust="spacingAndGlyphs"  stroke-width="0.12">0</text><text x="306.7" y="57.0" font-family="Liberation Serif, serif" font-size="10.9" textLength="5.4" lengthAdjust="spacingAndGlyphs" >e</text><text x="312.9" y="57.0" font-family="Liberation Serif, serif" font-size="10.9" textLength="7.3" lengthAdjust="spacingAndGlyphs" >V</text>
<text x="253.1" y="67.6" font-family="Liberation Serif, serif" font-size="10.9" textLength="9.3" lengthAdjust="spacingAndGlyphs" >M</text><text x="262.2" y="70.4" font-family="Liberation Serif, serif" font-size="8.5" textLength="3.6" lengthAdjust="spacingAndGlyphs" font-style="italic">ν</text><text x="267.0" y="67.6" font-family="Liberation Sans, sans-serif" font-size="10.9" textLength="6.8" lengthAdjust="spacingAndGlyphs"  stroke-width="0.12">=</text><text x="275.4" y="67.6" font-family="Liberation Sans, sans-serif" font-size="10.9" textLength="24.5" lengthAdjust="spacingAndGlyphs"  stroke-width="0.12">0.17</text><text x="306.7" y="67.6" font-family="Liberation Serif, serif" font-size="10.9" textLength="5.4" lengthAdjust="spacingAndGlyphs" >e</text><text x="312.9" y="67.6" font-family="Liberation Serif, serif" font-size="10.9" textLength="7.3" lengthAdjust="spacingAndGlyphs" >V</text>
<text x="260.7" y="78.0" font-family="Liberation Serif, serif" font-size="10.9" textLength="9.3" lengthAdjust="spacingAndGlyphs" >M</text><text x="269.8" y="80.8" font-family="Liberation Serif, serif" font-size="8.5" textLength="3.6" lengthAdjust="spacingAndGlyphs" font-style="italic">ν</text><text x="274.6" y="78.0" font-family="Liberation Sans, sans-serif" font-size="10.9" textLength="6.8" lengthAdjust="spacingAndGlyphs"  stroke-width="0.12">=</text><text x="282.9" y="78.0" font-family="Liberation Sans, sans-serif" font-size="10.9" textLength="17.0" lengthAdjust="spacingAndGlyphs"  stroke-width="0.12">0.3</text><text x="306.7" y="78.0" font-family="Liberation Serif, serif" font-size="10.9" textLength="5.4" lengthAdjust="spacingAndGlyphs" >e</text><text x="312.9" y="78.0" font-family="Liberation Serif, serif" font-size="10.9" textLength="7.3" lengthAdjust="spacingAndGlyphs" >V</text>
<text x="253.1" y="88.4" font-family="Liberation Serif, serif" font-size="10.9" textLength="9.3" lengthAdjust="spacingAndGlyphs" >M</text><text x="262.2" y="91.2" font-family="Liberation Serif, serif" font-size="8.5" textLength="3.6" lengthAdjust="spacingAndGlyphs" font-style="italic">ν</text><text x="267.0" y="88.4" font-family="Liberation Sans, sans-serif" font-size="10.9" textLength="6.8" lengthAdjust="spacingAndGlyphs"  stroke-width="0.12">=</text><text x="275.4" y="88.4" font-family="Liberation Sans, sans-serif" font-size="10.9" textLength="24.5" lengthAdjust="spacingAndGlyphs"  stroke-width="0.12">0.53</text><text x="306.7" y="88.4" font-family="Liberation Serif, serif" font-size="10.9" textLength="5.4" lengthAdjust="spacingAndGlyphs" >e</text><text x="312.9" y="88.4" font-family="Liberation Serif, serif" font-size="10.9" textLength="7.3" lengthAdjust="spacingAndGlyphs" >V</text>
<text x="86.3" y="267.3" font-family="Liberation Sans, sans-serif" font-size="14.0" textLength="14.6" lengthAdjust="spacingAndGlyphs" stroke-width="0.1">10</text>
<text x="192.8" y="267.3" font-family="Liberation Sans, sans-serif" font-size="14.0" textLength="24.0" lengthAdjust="spacingAndGlyphs" stroke-width="0.1">100</text>
<text x="299.5" y="267.3" font-family="Liberation Sans, sans-serif" font-size="14.0" textLength="33.0" lengthAdjust="spacingAndGlyphs" stroke-width="0.1">1000</text>
<text x="236.0" y="282.1" font-family="Liberation Serif, serif" font-size="13.8" textLength="4.0" lengthAdjust="spacingAndGlyphs" >l</text>
<text x="62.2" y="247.9" font-family="Liberation Sans, sans-serif" font-size="14.0" textLength="14.8" lengthAdjust="spacingAndGlyphs" stroke-width="0.1">10</text>
<text x="78.0" y="240.6" font-family="Liberation Sans, sans-serif" font-size="8.4" textLength="10.8" lengthAdjust="spacingAndGlyphs" stroke-width="0.35">−8</text>
<text x="62.2" y="216.1" font-family="Liberation Sans, sans-serif" font-size="14.0" textLength="14.8" lengthAdjust="spacingAndGlyphs" stroke-width="0.1">10</text>
<text x="78.0" y="208.8" font-family="Liberation Sans, sans-serif" font-size="8.4" textLength="10.8" lengthAdjust="spacingAndGlyphs" stroke-width="0.35">−7</text>
<text x="62.2" y="178.9" font-family="Liberation Sans, sans-serif" font-size="14.0" textLength="14.8" lengthAdjust="spacingAndGlyphs" stroke-width="0.1">10</text>
<text x="78.0" y="171.6" font-family="Liberation Sans, sans-serif" font-size="8.4" textLength="10.8" lengthAdjust="spacingAndGlyphs" stroke-width="0.35">−6</text>
<text x="62.2" y="141.8" font-family="Liberation Sans, sans-serif" font-size="14.0" textLength="14.8" lengthAdjust="spacingAndGlyphs" stroke-width="0.1">10</text>
<text x="78.0" y="134.4" font-family="Liberation Sans, sans-serif" font-size="8.4" textLength="10.8" lengthAdjust="spacingAndGlyphs" stroke-width="0.35">−5</text>
<text x="62.2" y="104.6" font-family="Liberation Sans, sans-serif" font-size="14.0" textLength="14.8" lengthAdjust="spacingAndGlyphs" stroke-width="0.1">10</text>
<text x="78.0" y="97.3" font-family="Liberation Sans, sans-serif" font-size="8.4" textLength="10.8" lengthAdjust="spacingAndGlyphs" stroke-width="0.35">−4</text>
<text x="62.2" y="67.5" font-family="Liberation Sans, sans-serif" font-size="14.0" textLength="14.8" lengthAdjust="spacingAndGlyphs" stroke-width="0.1">10</text>
<text x="78.0" y="60.2" font-family="Liberation Sans, sans-serif" font-size="8.4" textLength="10.8" lengthAdjust="spacingAndGlyphs" stroke-width="0.35">−3</text>
<text x="62.2" y="33.5" font-family="Liberation Sans, sans-serif" font-size="14.0" textLength="14.8" lengthAdjust="spacingAndGlyphs" stroke-width="0.1">10</text>
<text x="78.0" y="26.2" font-family="Liberation Sans, sans-serif" font-size="8.4" textLength="10.8" lengthAdjust="spacingAndGlyphs" stroke-width="0.35">−2</text>
<g transform="translate(50.4,228.5) rotate(-90)" text-anchor="middle">
<text x="1.7" y="0.0" font-family="Liberation Serif, serif" font-size="13.6"  >l</text>
<path d="M8.8,-11.1 C5.2,-7.3 5.2,-1.9 8.8,1.9" fill="none" stroke="#000" stroke-width="1.3" stroke-linecap="round"/>
<text x="13.0" y="0.0" font-family="Liberation Serif, serif" font-size="13.6"  >l</text>
<text x="19.3" y="0.6" font-family="Liberation Serif, serif" font-size="16.5"  >+</text>
<text x="28.6" y="0.0" font-family="Liberation Serif, serif" font-size="13.6" textLength="5.0" lengthAdjust="spacingAndGlyphs" >1</text>
<path d="M33.9,-11.1 C37.5,-7.3 37.5,-1.9 33.9,1.9" fill="none" stroke="#000" stroke-width="1.3" stroke-linecap="round"/>
<text x="41.0" y="-6.3" font-family="Liberation Sans, sans-serif" font-size="9.0"   stroke-width="0.12">3</text>
<path d="M44.0,-5.4 L50.0,-12.6" fill="none" stroke="#000" stroke-width="1.0" stroke-linecap="round"/>
<text x="53.5" y="-5.9" font-family="Liberation Sans, sans-serif" font-size="9.0"   stroke-width="0.12">2</text>
<text x="58.6" y="0.0" font-family="Liberation Sans, sans-serif" font-size="13.3"   stroke-width="0.12">A</text>
<text x="66.6" y="0.0" font-family="Liberation Sans, sans-serif" font-size="13.3"   stroke-width="0.12">B</text>
<text x="74.1" y="0.0" font-family="Liberation Sans, sans-serif" font-size="13.3"   stroke-width="0.12">S</text>
<path d="M83.9,-11.1 C80.3,-7.3 80.3,-1.9 83.9,1.9" fill="none" stroke="#000" stroke-width="1.3" stroke-linecap="round"/>
<text x="90.4" y="0.0" font-family="Liberation Sans, sans-serif" font-size="13.3"   stroke-width="0.12">C</text>
<text x="96.0" y="2.6" font-family="Liberation Serif, serif" font-size="9.0"  >l</text>
<text x="95.8" y="-7.0" font-family="Liberation Sans, sans-serif" font-size="7.8"   stroke-width="0.12">T</text>
<text x="101.2" y="-6.4" font-family="Liberation Sans, sans-serif" font-size="9.2"   stroke-width="0.12">φ</text>
<path d="M105.8,-11.1 C109.4,-7.3 109.4,-1.9 105.8,1.9" fill="none" stroke="#000" stroke-width="1.3" stroke-linecap="round"/>
<path d="M112.1,1.9 L117.9,-10.8" fill="none" stroke="#000" stroke-width="1.3" stroke-linecap="round"/>
<path d="M123.5,-11.1 C119.9,-7.3 119.9,-1.9 123.5,1.9" fill="none" stroke="#000" stroke-width="1.3" stroke-linecap="round"/>
<text x="129.7" y="0.0" font-family="Liberation Sans, sans-serif" font-size="13.3"   stroke-width="0.12">2</text>
<text x="137.6" y="0.0" font-family="Liberation Sans, sans-serif" font-size="13.3"   stroke-width="0.12">π</text>
<path d="M143.7,-11.1 C147.2,-7.3 147.2,-1.9 143.7,1.9" fill="none" stroke="#000" stroke-width="1.3" stroke-linecap="round"/>
<path d="M159.3,-11.1 C155.8,-7.3 155.8,-1.9 159.3,1.9" fill="none" stroke="#000" stroke-width="1.3" stroke-linecap="round"/>
<text x="165.3" y="0.0" font-family="Liberation Serif, serif" font-size="13.6"  font-style="italic">μ</text>
<text x="173.6" y="0.0" font-family="Liberation Serif, serif" font-size="13.6"  >K</text>
<path d="M180.4,-11.1 C184.0,-7.3 184.0,-1.9 180.4,1.9" fill="none" stroke="#000" stroke-width="1.3" stroke-linecap="round"/>
</g>
</g>
</svg></body></html>
